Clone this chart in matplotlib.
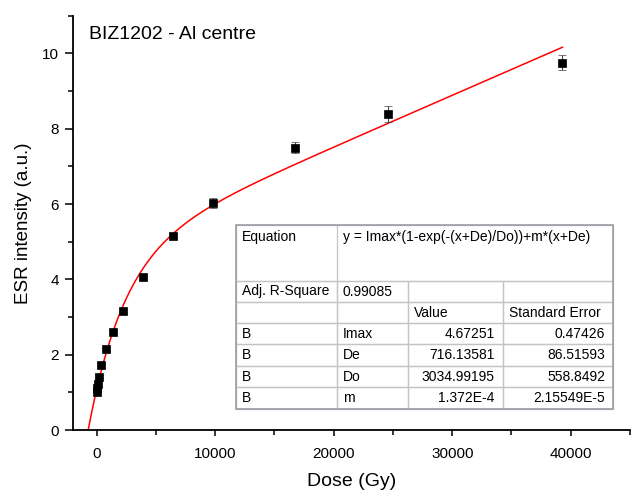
import numpy as np
import matplotlib
matplotlib.use("Agg")
import matplotlib.pyplot as plt
from matplotlib.ticker import MultipleLocator
from matplotlib.patches import Rectangle

plt.rcParams['font.family'] = ['Liberation Sans', 'DejaVu Sans']

# dose (Gy) / ESR intensity (a.u.) / error
dose = [0, 60, 120, 200, 400, 800, 1400, 2200, 3900, 6400, 9800, 16700, 24600, 39300]
esr = [1.02, 1.12, 1.23, 1.42, 1.73, 2.15, 2.60, 3.16, 4.06, 5.15, 6.02, 7.50, 8.39, 9.75]
err = [0.03, 0.03, 0.03, 0.04, 0.04, 0.05, 0.05, 0.06, 0.06, 0.08, 0.13, 0.15, 0.22, 0.20]

# fit parameters
Imax, De, Do, m = 4.67251, 716.13581, 3034.99195, 1.372E-4
adj_r2 = "0.99085"
par_names = ["Imax", "De", "Do", "m"]
par_vals = ["4.67251", "716.13581", "3034.99195", "1.372E-4"]
par_errs = ["0.47426", "86.51593", "558.8492", "2.15549E-5"]
equation = "y = Imax*(1-exp(-(x+De)/Do))+m*(x+De)"


def model(x):
    return Imax * (1 - np.exp(-(x + De) / Do)) + m * (x + De)


fig = plt.figure(figsize=(6.31, 4.91), dpi=100)
ax = fig.add_axes([73 / 631, 61 / 491, 557 / 631, 414.3 / 491])

xf = np.linspace(-De, max(dose), 600)
ax.plot(xf, model(xf), color='red', lw=1.1, zorder=2)
ax.errorbar(dose, esr, yerr=err, fmt='s', color='black', ms=5.5, mew=0.5,
            ecolor='#444444', elinewidth=0.8, capsize=3, capthick=0.8, zorder=3)

ax.set_xlim(-2000, 45000)
ax.set_ylim(0, 11)
ax.xaxis.set_major_locator(MultipleLocator(10000))
ax.xaxis.set_minor_locator(MultipleLocator(5000))
ax.yaxis.set_major_locator(MultipleLocator(2))
ax.yaxis.set_minor_locator(MultipleLocator(1))
ax.spines['top'].set_visible(False)
ax.spines['right'].set_visible(False)
for s in ('left', 'bottom'):
    ax.spines[s].set_linewidth(1.3)
ax.tick_params(axis='both', which='both', direction='out', width=1.1, labelsize=11)
ax.tick_params(axis='y', which='major', length=6, pad=4)
ax.tick_params(axis='y', which='minor', length=3.5)
ax.tick_params(axis='x', which='major', length=4, pad=8)
ax.tick_params(axis='x', which='minor', length=3.5)

ax.set_xlabel("Dose (Gy)", fontsize=14, labelpad=9)
ax.set_ylabel("ESR intensity (a.u.)", fontsize=13.5, labelpad=7)
ax.text(0.0287, 0.955, "BIZ1202 - Al centre", transform=ax.transAxes,
        fontsize=14, ha='left', va='center')

# fit results table
rows = [["Equation\n\n", equation + "\n\n", "", ""],
        ["Adj. R-Square", adj_r2, "", ""],
        ["", "", "Value", "Standard Error"]]
for n, v, e in zip(par_names, par_vals, par_errs):
    rows.append(["B", n, v, e])

col_w = [101, 71.6, 94.4, 110.6]
row_h = [55.7, 21.6, 21.0, 21.0, 21.7, 21.3, 21.7]
tb_box = [(235.7 - 73) / 557, (430 - 409) / 414.3, 377.6 / 557, 184 / 414.3]

# white backing so the cells can stay transparent (equation spills over)
ax.add_patch(Rectangle((tb_box[0], tb_box[1]), tb_box[2], tb_box[3],
                       transform=ax.transAxes, facecolor='white',
                       edgecolor='none', zorder=3.5, clip_on=False))
tb = ax.table(cellText=rows, colWidths=[w / sum(col_w) for w in col_w],
              cellLoc='left', bbox=tb_box, zorder=4)
tb.auto_set_font_size(False)
tb.set_fontsize(10)
for (r, c), cell in tb.get_celld().items():
    cell.set_height(row_h[r])
    cell.set_edgecolor('#c4c4c8')
    cell.set_linewidth(0.9)
    cell.set_facecolor('none')
    cell.PAD = 6 / col_w[c]
    if r >= 3 and c >= 2:
        cell._text.set_horizontalalignment('right')
        cell.PAD = 8 / col_w[c]
    if r == 0:
        cell.visible_edges = {0: 'BTL', 1: 'BTL', 2: 'BT', 3: 'BTR'}[c]
ax.add_patch(Rectangle((tb_box[0], tb_box[1]), tb_box[2], tb_box[3],
                       transform=ax.transAxes, fill=False, edgecolor='#9c9ca4',
                       lw=1.2, zorder=5, clip_on=False))

fig.savefig("out.png", dpi=100)
